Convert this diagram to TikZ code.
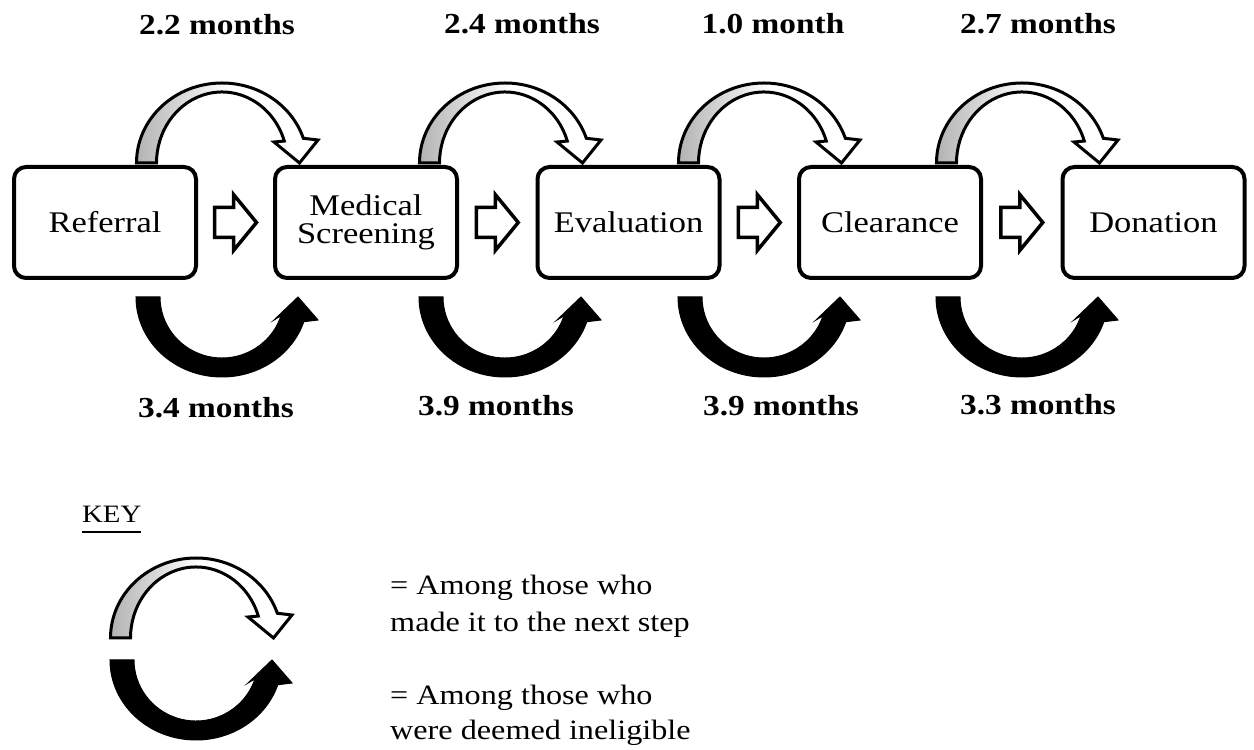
\documentclass[tikz,border=0pt]{standalone}
\usepackage{fontspec}
\setmainfont{Liberation Serif}[FakeStretch=1.15]
\usetikzlibrary{calc}
\tikzset{
  x=1pt, y=1pt,
  stagebox/.style={draw=black, line width=4pt, rounded corners=12pt, minimum width=182pt, minimum height=111pt, inner sep=0pt, align=center, font=\fontsize{30}{28}\selectfont},
  lab/.style={font=\bfseries\fontsize{29}{30}\selectfont, inner sep=0pt, anchor=base},
  keytext/.style={font=\fontsize{28}{37}\selectfont, inner sep=0pt, anchor=base west},
  blockarr/.pic={
    \draw[line width=3.5pt, fill=white, line join=miter]
      (-21,-15) -- (-2,-15) -- (-2,-28) -- (21,0) -- (-2,28) -- (-2,15) -- (-21,15) -- cycle;
  },
  goarr/.pic={
    \path[draw=black, line width=3pt, line join=miter, left color=black!30, right color=white, middle color=white]
      (-85.5,0) arc[start angle=180, end angle=18, x radius=85.5, y radius=80]
      -- (96,23) -- (77.5,0) -- (52,21) -- ({65.5*cos(18)},{71*sin(18)})
      arc[start angle=18, end angle=180, x radius=65.5, y radius=71] -- cycle;
  },
  noarr/.pic={
    \path[draw=black, fill=black, line width=1pt, line join=miter]
      (-86,0) arc[start angle=180, end angle=342, x radius=86, y radius=80]
      -- (96,-23) -- (76,0) -- (52,-23) -- ({62*cos(342)},{61*sin(342)})
      arc[start angle=342, end angle=180, x radius=62, y radius=61] -- cycle;
  }
}
\begin{document}
\begin{tikzpicture}
\useasboundingbox (0,0) rectangle (1254,750);
\fill[white] (0,0) rectangle (1254,750);

% stages
\node[stagebox] (b1) at (105,527.5) {Referral};
\node[stagebox] (b2) at (366,527.5) {Medical\\Screening};
\node[stagebox] (b3) at (628.5,527.5) {Evaluation};
\node[stagebox] (b4) at (890,527.5) {Clearance};
\node[stagebox] (b5) at (1153.5,527.5) {Donation};

% block arrows between stages
\pic at ($(b1.east)!0.5!(b2.west)$) {blockarr};
\pic at ($(b2.east)!0.5!(b3.west)$) {blockarr};
\pic at ($(b3.east)!0.5!(b4.west)$) {blockarr};
\pic at ($(b4.east)!0.5!(b5.west)$) {blockarr};

% curved arrows: made it to next step
\pic at (222,587) {goarr};
\pic at (505,587) {goarr};
\pic at (764,587) {goarr};
\pic at (1022,587) {goarr};

% curved arrows: deemed ineligible
\pic at (222,453) {noarr};
\pic at (505,453) {noarr};
\pic at (764,453) {noarr};
\pic at (1022,453) {noarr};

% labels
\node[lab] (t1) at (217,715) {2.2 months};
\node[lab] (t2) at (522,716) {2.4 months};
\node[lab] (t3) at (773,716) {1.0 month};
\node[lab] (t4) at (1038,716) {2.7 months};
\node[lab] (u1) at (216,332) {3.4 months};
\node[lab] (u2) at (496,334) {3.9 months};
\node[lab] (u3) at (781,334) {3.9 months};
\node[lab] (u4) at (1038,335) {3.3 months};

% key
\node[font=\fontsize{25}{25}\selectfont, inner sep=0pt, anchor=base west] (key) at (82,227) {KEY};
\draw[line width=2.5pt] ([yshift=-9pt]key.base west) -- ([yshift=-9pt]key.base east);
\pic at (196,112) {goarr};
\pic at (196,90) {noarr};
\node[keytext] (k1) at (390,155) {= Among those who};
\node[keytext] (k2) at ([yshift=-37pt]k1.base west) {made it to the next step};
\node[keytext] (k3) at (390,45) {= Among those who};
\node[keytext] (k4) at ([yshift=-35pt]k3.base west) {were deemed ineligible};
\end{tikzpicture}
\end{document}
